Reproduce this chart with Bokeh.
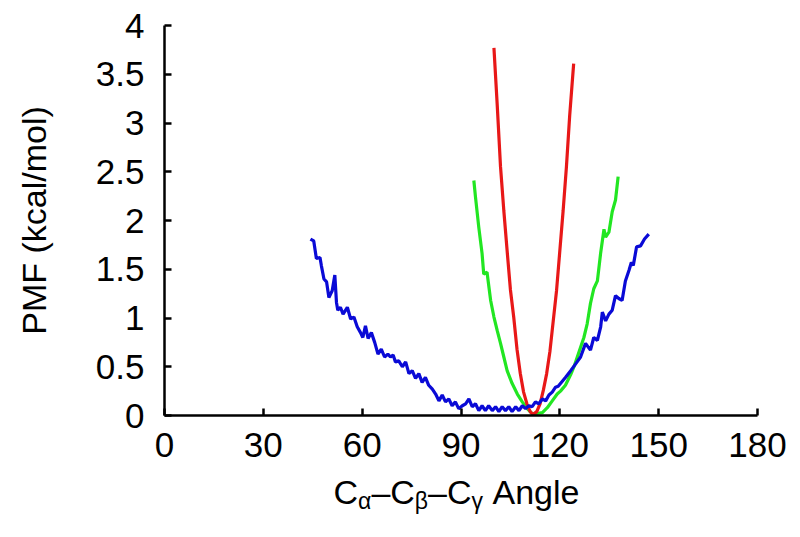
from bokeh.plotting import figure
from bokeh.models import Range1d, FixedTicker
from bokeh.layouts import column
from bokeh.core.properties import value
from bokeh.embed import file_html
from bokeh.resources import INLINE

# ---- data ----
x_ticks = [0, 30, 60, 90, 120, 150, 180]
y_ticks = [0, 0.5, 1, 1.5, 2, 2.5, 3, 3.5, 4]
y_tick_labels = {0: "0", 0.5: "0.5", 1: "1", 1.5: "1.5", 2: "2", 2.5: "2.5", 3: "3", 3.5: "3.5", 4: "4"}

red_x = [100.0, 101, 102, 103, 104, 105, 106, 107, 108, 109, 110, 111, 111.8,
         113, 114, 115, 116, 117, 118, 119, 120, 121, 122, 123, 124.2]
red_y = [3.77, 3.18, 2.55, 2.10, 1.69, 1.29, 1.01, 0.68, 0.43, 0.24, 0.12, 0.04, 0.01,
         0.04, 0.12, 0.26, 0.43, 0.66, 0.97, 1.28, 1.69, 2.10, 2.55, 3.08, 3.61]

green_x = [93.9, 94.4, 95.4, 96.4, 96.9, 97.9, 99.0, 100.0, 101.0, 102.0, 103.0, 104.0,
           105.5, 107.1, 108.6, 110.1, 111.6, 113.1, 114.7, 116.2, 117.7, 119.2, 120.2,
           121.7, 123.3, 124.3, 125.3, 126.3, 127.3, 128.3, 129.3, 130.3, 131.4, 132.4,
           133.4, 133.9, 134.9, 135.9, 136.9, 137.7]
green_y = [2.41, 2.24, 1.93, 1.66, 1.45, 1.47, 1.18, 1.01, 0.87, 0.74, 0.60, 0.46,
           0.33, 0.22, 0.14, 0.07, 0.02, 0.02, 0.03, 0.08, 0.15, 0.22, 0.25,
           0.31, 0.42, 0.50, 0.60, 0.70, 0.80, 0.94, 1.15, 1.30, 1.38, 1.67,
           1.91, 1.83, 1.88, 2.09, 2.21, 2.45]

blue_x = [44.3, 45.3, 46.1, 47.2, 47.6, 48.4, 49.2, 49.9, 50.9, 51.7, 52.2, 52.6, 53.4,
          54.2, 55.5, 56.5, 57.5, 58.5, 59.5, 60.2, 61.0, 61.8, 62.8, 63.8, 64.8, 65.8,
          66.8, 67.8, 68.6, 69.4, 70.1, 71.1, 72.2, 73.2, 74.2, 75.2, 76.2, 77.2, 78.2,
          79.2, 80.2, 81.3, 82.3, 83.3, 84.3, 85.3, 86.3, 87.3, 88.3, 89.3, 90.4, 91.4,
          92.4, 93.4, 94.4, 95.4, 96.4, 97.4, 98.4, 99.5, 100.5, 101.5, 102.5, 103.5,
          104.5, 105.5, 106.6, 107.6, 108.6, 109.6, 110.6, 111.6, 112.6, 113.6, 114.7,
          115.7, 116.7, 117.7, 118.7, 119.5, 121.7, 123.3, 124.8, 126.3, 127.8, 129.3,
          130.3, 131.4, 132.4, 132.9, 133.9, 134.9, 135.9, 136.9, 137.9, 138.9, 139.9,
          141.0, 141.7, 142.3, 143.3, 144.5, 145.7, 147.0]
blue_y = [1.81, 1.79, 1.61, 1.62, 1.54, 1.40, 1.37, 1.21, 1.28, 1.44, 1.16, 1.08, 1.11,
          1.04, 1.11, 0.99, 1.01, 0.91, 0.85, 0.80, 0.92, 0.79, 0.85, 0.75, 0.63, 0.68,
          0.60, 0.63, 0.60, 0.62, 0.55, 0.56, 0.50, 0.55, 0.43, 0.46, 0.38, 0.43, 0.34,
          0.39, 0.31, 0.27, 0.22, 0.15, 0.21, 0.14, 0.17, 0.10, 0.14, 0.07, 0.10, 0.12,
          0.17, 0.09, 0.12, 0.05, 0.10, 0.05, 0.10, 0.05, 0.09, 0.04, 0.09, 0.05,
          0.09, 0.04, 0.09, 0.05, 0.10, 0.07, 0.10, 0.09, 0.14, 0.12, 0.17,
          0.15, 0.21, 0.24, 0.29, 0.30, 0.39, 0.46, 0.53, 0.60, 0.74, 0.67,
          0.80, 0.77, 0.91, 1.06, 0.97, 1.04, 1.08, 1.23, 1.20, 1.18, 1.38,
          1.49, 1.57, 1.54, 1.73, 1.74, 1.81, 1.86]

x_title_pieces = ["C", "\u03b1", "\u2013", "C", "\u03b2", "\u2013", "C", "\u03b3", "Angle"]
x_title_is_sub = [False, True, False, False, True, False, False, True, False]

FONT = "Liberation Sans"
TICK_SZ = 35
TITLE_SZ = 34
SUB_SZ = 23

W = 800
MAIN_H = 472
TITLE_H = 537 - MAIN_H
FRAME_L, FRAME_R = 164, 757

p = figure(width=W, height=MAIN_H, output_backend="svg", toolbar_location=None,
           x_range=Range1d(0, 180), y_range=Range1d(0, 4), title=None,
           min_border_left=FRAME_L, min_border_right=W - FRAME_R, min_border_top=25,
           min_border_bottom=MAIN_H - 415)
p.outline_line_color = None
p.grid.visible = False
p.background_fill_color = "white"
p.border_fill_color = "white"

p.line(green_x, green_y, line_color="#22e622", line_width=3.2)
p.line(red_x, red_y, line_color="#e81818", line_width=3.2)
p.line(blue_x, blue_y, line_color="#0a0ad6", line_width=3.2)

for ax in (p.xaxis[0], p.yaxis[0]):
    ax.axis_line_color = "black"
    ax.axis_line_width = 2.5
    ax.major_tick_line_color = "black"
    ax.major_tick_line_width = 2.5
    ax.major_tick_in = 7
    ax.major_tick_out = 0
    ax.minor_tick_line_color = None
    ax.major_label_text_font = FONT
    ax.major_label_text_font_size = f"{TICK_SZ}px"
    ax.major_label_text_color = "black"

p.xaxis.ticker = FixedTicker(ticks=x_ticks)
p.yaxis.ticker = FixedTicker(ticks=y_ticks)
p.yaxis.major_label_overrides = y_tick_labels
p.xaxis.major_label_standoff = 17
p.yaxis.major_label_standoff = 20

p.yaxis.axis_label = "PMF (kcal/mol)"
p.yaxis.axis_label_text_font = FONT
p.yaxis.axis_label_text_font_size = f"{TITLE_SZ}px"
p.yaxis.axis_label_text_font_style = "normal"
p.yaxis.axis_label_text_color = "black"
p.yaxis.axis_label_standoff = 40

# ---- x-axis title strip (real text, with subscripts) ----
t = figure(width=W, height=TITLE_H, output_backend="svg", toolbar_location=None,
           x_range=Range1d(FRAME_L, FRAME_R), y_range=Range1d(0, TITLE_H), title=None,
           x_axis_type=None, y_axis_type=None,
           min_border_left=FRAME_L, min_border_right=W - FRAME_R, min_border_top=0,
           min_border_bottom=0)
t.outline_line_color = None
t.grid.visible = False
t.background_fill_color = "white"
t.border_fill_color = "white"

em = {"C": 0.722, "\u2013": 0.556, "Angle": 2.557, "\u03b1": 0.58, "\u03b2": 0.575, "\u03b3": 0.5}
space_em = 0.278
start_x = 333
main_base = 46
sub_base = 37
mx, my, mt, sx, sy, st = [], [], [], [], [], []
cur = start_x
for txt, sub in zip(x_title_pieces, x_title_is_sub):
    sz = SUB_SZ if sub else TITLE_SZ
    if txt == "Angle":
        cur += space_em * TITLE_SZ
    if sub:
        sx.append(cur); sy.append(sub_base); st.append(txt)
    else:
        mx.append(cur); my.append(main_base); mt.append(txt)
    cur += em[txt] * sz

t.text(mx, my, text=mt, text_font=value(FONT), text_font_size=value(f"{TITLE_SZ}px"),
       text_color="black", text_baseline="alphabetic", text_align="left")
t.text(sx, sy, text=st, text_font=value(FONT), text_font_size=value(f"{SUB_SZ}px"),
       text_color="black", text_baseline="alphabetic", text_align="left")

layout = column(p, t, spacing=0)
open("out.html", "w").write(file_html(layout, INLINE))
